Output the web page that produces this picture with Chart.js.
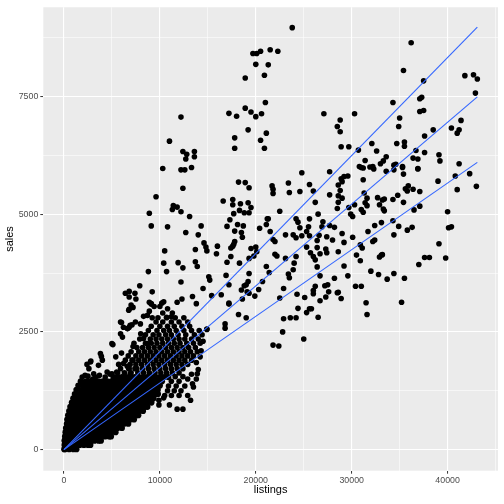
<!DOCTYPE html>
<html>
<head>
<meta charset="utf-8">
<script src="https://cdn.jsdelivr.net/npm/chart.js@4.4.0/dist/chart.umd.min.js"></script>
<style>
  html, body { margin: 0; padding: 0; background: #ffffff; }
  #wrap { width: 504px; height: 504px; }
</style>
</head>
<body>
<div id="wrap"><canvas id="chart" width="504" height="504"></canvas></div>
<script>
// dense core near the origin, one row per sales level: [sales, [listings...]]
const coreRows = [
  [10,   [30, 100, 540, 980, 1300]],
  [100,  [60, 320, 760, 1200, 1640, 2080, 2520, 2750]],
  [190,  [60, 100, 540, 980, 1420, 1860, 2300, 2740, 3180, 3620, 3850]],
  [280,  [110, 320, 760, 1200, 1640, 2080, 2520, 2960, 3400, 3840, 4280, 4720, 4900]],
  [370,  [160, 540, 980, 1420, 1860, 2300, 2740, 3180, 3620, 4060, 4500, 4940, 5380]],
  [460,  [210, 320, 760, 1200, 1640, 2080, 2520, 2960, 3400, 3840, 4280, 4720, 5160, 5600, 6040]],
  [550,  [300, 540, 980, 1420, 1860, 2300, 2740, 3180, 3620, 4060, 4500, 4940, 5380, 5820, 6260, 6700]],
  [640,  [340, 760, 1200, 1640, 2080, 2520, 2960, 3400, 3840, 4280, 4720, 5160, 5600, 6040, 6480, 6920, 7300]],
  [730,  [430, 700, 980, 1420, 1860, 2300, 2740, 3180, 3620, 4060, 4500, 4940, 5380, 5820, 6260, 6700, 7140, 7580, 7750]],
  [820,  [540, 760, 1200, 1640, 2080, 2520, 2960, 3400, 3840, 4280, 4720, 5160, 5600, 6040, 6480, 6920, 7360, 7800, 8240]],
  [910,  [660, 980, 1420, 1860, 2300, 2740, 3180, 3620, 4060, 4500, 4940, 5380, 5820, 6260, 6700, 7140, 7580, 8020, 8460, 8700]],
  [1000, [820, 1200, 1640, 2080, 2520, 2960, 3400, 3840, 4280, 4720, 5160, 5600, 6040, 6480, 6920, 7360, 7800, 8240, 8680, 9120]],
  [1090, [970, 1420, 1860, 2300, 2740, 3180, 3620, 4060, 4500, 4940, 5380, 5820, 6260, 6700, 7140, 7580, 8020, 8460, 8900, 9340]],
  [1180, [1130, 1640, 2080, 2520, 2960, 3400, 3840, 4280, 4720, 5160, 5600, 6040, 6480, 6920, 7360, 7800, 8240, 8680, 9120, 9560, 9800]],
  [1270, [1300, 1860, 2300, 2740, 3180, 3620, 4060, 4500, 4940, 5380, 5820, 6260, 6700, 7140, 7580, 8020, 8460, 8900, 9340, 9780]],
  [1360, [1500, 2080, 2520, 2960, 3400, 3840, 4280, 4720, 5160, 5600, 6040, 6480, 6920, 7360, 7800, 8240, 8680, 9120, 9560, 10000]],
  [1450, [1750, 2300, 2740, 3180, 3620, 4060, 4500, 4940, 5380, 5820, 6260, 6700, 7140, 7580, 8020, 8460, 8900, 9340, 9780, 10220]],
  [1540, [5160, 5600, 6040, 6480, 6920, 7360, 7800, 8240, 8680, 9120, 9560, 10000, 10440, 10880]]
];

// band along the fitted lines, same layout: [sales, [listings...]]
const bandRows = [
  [1630, [5600, 6300, 7000, 7700, 8300, 8900, 9500, 10100, 10700, 11300, 12000]],
  [1720, [5900, 6800, 7600, 8200, 8800, 9400, 10000, 10600, 11200, 11800, 12400]],
  [1810, [5700, 6900, 7500, 8100, 8700, 9300, 9900, 10500, 11100, 11700, 12300, 12900]],
  [1900, [6400, 7200, 7800, 8400, 9000, 9600, 10200, 10800, 11400, 12000, 12600, 13300]],
  [1990, [6700, 7500, 8100, 8700, 9300, 9900, 10500, 11100, 11700, 12300, 12900, 13500]],
  [2080, [7000, 7800, 8400, 9000, 9600, 10200, 10800, 11400, 12000, 12600, 13200, 13900]],
  [2170, [7600, 8200, 8800, 9400, 10000, 10600, 11200, 11800, 12400, 13000, 13700]],
  [2260, [7300, 8500, 9100, 9700, 10300, 10900, 11500, 12100, 12800, 13500, 14200]],
  [2350, [7900, 9000, 9600, 10200, 10800, 11400, 12000, 12600, 13300, 14000]],
  [2440, [8500, 9300, 9900, 10600, 11200, 11900, 12700, 13600, 14400]],
  [2530, [8800, 9700, 10400, 11000, 11700, 12500, 13300, 14100]],
  [2620, [9100, 10000, 10800, 11500, 12300, 13100]],
  [2710, [9600, 10300, 11200, 12000, 12900]],
  [2800, [9800, 10700, 11600, 12500]],
  [2900, [10300, 11300]]
];

// individual points: [listings, sales]
const lowerPoints = [
  [11800, 860], [12400, 860], [12000, 1150], [13200, 1050], [9900, 1050], [10400, 1100], [8300, 1050],
  [14200, 1970], [13900, 1610], [13500, 1330],
  [10800, 1250], [11500, 1250], [12200, 1250], [10500, 1150], [11200, 1150], [12900, 1150],
  [9900, 950], [11000, 950], [10900, 1350], [11700, 1350], [12600, 1350], [13400, 1400],
  [11200, 1450], [12000, 1450], [12900, 1500], [13800, 1500], [11600, 1550], [12400, 1550], [13300, 1600],
  [14000, 1700], [13800, 1850], [14300, 2100], [14500, 2300], [14900, 2560],
  [1900, 1540], [2500, 1560], [3000, 1500], [3700, 1580], [4300, 1540], [4800, 1600]
];

const clumpPoints = [
  [6750, 2960], [5900, 2710], [6200, 2600], [6900, 2640], [6650, 2570], [7970, 2670], [7450, 2710],
  [5000, 2250], [5900, 2460], [6100, 2390], [8000, 2460], [8300, 2360], [8700, 2250],
  [3800, 2040], [4000, 1900], [2760, 1860], [3600, 1790], [2600, 1720], [2100, 1430], [3100, 1610],
  [4500, 1650], [5400, 1970], [6200, 1830], [7100, 1900], [6750, 1720], [5500, 1650], [5100, 2230],
  [7200, 2190], [6000, 2050], [3900, 1980], [2400, 1810], [2800, 1880], [3300, 1540], [2200, 1580],
  [6600, 1770], [5000, 1610], [6900, 1610], [7400, 1720], [7600, 1440], [7200, 1370],
  [6400, 3320], [6800, 3240], [7500, 3200], [7200, 3020], [6800, 2980], [7000, 3070], [9100, 3090],
  [9400, 3040], [10000, 3040], [10800, 2990], [8900, 2940], [8300, 2830], [8700, 2850], [9200, 2800],
  [10700, 2810], [11200, 2820], [6000, 2700], [7100, 2650], [6800, 2600], [6600, 2570],
  [13800, 3100], [17200, 3090], [19100, 3350], [18200, 2870], [19000, 2800], [16800, 2670],
  [16800, 2580], [14900, 2550]
];

const upperPoints = [
  [23800, 8960], [19700, 8410], [20100, 8410], [20500, 8460], [21500, 8490], [22300, 8460],
  [20000, 8180], [21300, 8170], [18900, 7890], [20900, 7950], [21000, 7370], [18900, 7250],
  [19500, 7170], [20600, 7130], [20000, 7070], [17200, 7140], [18000, 7080], [27100, 7130],
  [12200, 7060], [19200, 6790], [21100, 6720], [17800, 6620], [20500, 6570], [17800, 6400],
  [20900, 6400], [11000, 6550], [12400, 6330], [12800, 6270], [13600, 6330], [12700, 6170],
  [13600, 6220], [10300, 5970], [12200, 5940], [12600, 5940], [13300, 5990],
  [36200, 8640], [35400, 8050], [41800, 7940], [42700, 7960], [43100, 7870], [42900, 7570],
  [37500, 7830], [37300, 7480], [37100, 7450], [37100, 7180], [37500, 7200], [34300, 7370],
  [35000, 7040], [34900, 6860], [30300, 7130], [28800, 7000], [28500, 6860], [28800, 6750],
  [28900, 6430], [29700, 6430], [30700, 6360], [32100, 6500], [32600, 6340], [31400, 6140],
  [33600, 6220], [33300, 6130], [33000, 6070], [30800, 6010], [31200, 5980], [32200, 6010],
  [32300, 5960], [34400, 6040], [34600, 6060], [35300, 6010], [34700, 6500], [35500, 6530],
  [35500, 6440], [38500, 6790], [37600, 6660], [40400, 6830], [41000, 6720], [41200, 6790],
  [41400, 6990], [36700, 6350], [37600, 6310], [36400, 6190], [36900, 6170], [39100, 6260],
  [39200, 6130], [41200, 6070], [36900, 5970]
];

const middlePoints = [
  [18200, 5680], [18900, 5670], [19300, 5560], [12400, 5550], [9600, 5370], [16600, 5280],
  [17600, 5310], [17600, 5200], [18400, 5220], [19200, 5240], [11400, 5180], [11300, 5100],
  [11800, 5150], [12200, 5050], [18300, 5080], [18800, 5030], [19300, 5030], [19500, 5140],
  [17700, 5010], [8900, 5020], [13100, 4950], [17300, 4880], [21200, 4900], [9100, 4750],
  [10800, 4730], [14300, 4750], [17000, 4740], [18100, 4780], [18700, 4750], [20400, 4700],
  [21100, 4780], [17800, 4640], [18500, 4610], [12700, 4610], [14000, 4560], [18600, 4510],
  [17800, 4420], [17700, 4360], [17600, 4320], [17400, 4280], [14600, 4390], [14800, 4300],
  [14900, 4220], [13700, 4250], [16000, 4320], [15900, 4160], [10500, 4220], [19500, 4270],
  [20000, 4300], [20100, 4200], [19800, 4110], [19300, 4060], [17400, 4100], [17000, 3980],
  [18300, 3960], [13700, 3990], [13900, 3890], [12400, 3860], [10400, 3960], [10700, 3780],
  [11900, 3970], [8800, 3780], [15100, 3670], [15200, 3600], [16900, 3700], [17200, 3500],
  [21100, 3890], [19300, 3740], [19200, 3570], [19000, 3500], [18800, 3480], [12200, 3560],
  [14500, 3420], [7900, 3480], [6800, 3360], [7400, 3320], [9200, 3350], [15400, 3270],
  [13400, 3250], [12300, 3200], [11800, 3130], [10400, 3140], [10200, 3110], [8900, 3130],
  [9100, 3100], [16400, 3290], [17200, 3110], [18600, 3200], [18500, 3390], [19300, 3320],
  [19900, 3260], [20300, 3400], [20700, 3570],
  [24800, 5880], [27700, 5900], [21700, 5600], [21800, 5530], [21800, 5440], [23400, 5660],
  [23500, 5460], [24600, 5480], [25600, 5630], [26000, 5490], [26200, 5250], [22500, 5060],
  [21300, 4900], [21500, 4630], [21800, 4460], [22000, 4420], [22000, 4150], [22200, 4110],
  [21400, 3760], [24200, 4900], [24400, 4830], [24600, 4710], [25500, 4730], [25600, 4900],
  [26500, 5000], [27000, 4840], [26900, 4730], [27700, 4760], [28200, 4720], [23100, 4560],
  [23900, 4560], [24200, 4500], [24800, 4540], [25300, 4630], [25600, 4540], [26400, 4440],
  [26400, 4290], [26600, 4550], [27400, 4520], [28000, 4450], [27300, 4260], [26700, 4160],
  [27400, 4180], [25300, 4300], [25700, 4180], [26000, 4100], [26200, 4030], [26400, 3880],
  [23100, 4060], [24000, 3960], [24200, 4100], [23900, 3820], [23400, 3730], [23500, 3650],
  [22900, 3420], [22500, 3220], [24300, 3300], [25100, 3230], [26200, 3470], [26700, 3690],
  [27200, 3480], [27500, 3500], [28200, 3640], [28500, 3330], [28900, 3210], [26700, 3160],
  [28600, 4200], [29000, 4590], [29200, 4400], [30100, 4510], [28900, 5750], [29000, 5690],
  [29200, 5800], [29600, 5810], [28600, 5620], [28800, 5500], [28600, 5390], [29000, 5340],
  [28600, 5250], [28500, 5120], [27700, 5410], [29700, 5140], [30300, 5200], [30100, 4950],
  [29900, 5000], [31200, 5730], [31300, 5450], [31600, 5340], [31400, 5240], [31600, 5180],
  [31000, 5100], [31200, 5040], [31900, 6000], [31000, 5990], [32700, 5350], [33200, 5300],
  [33300, 5110], [32400, 4760], [33100, 4820], [32900, 5200], [30900, 4350], [31100, 4280],
  [30500, 4130], [30900, 4010], [31700, 4630], [32200, 4420], [32400, 4450], [29200, 3900],
  [29600, 3690], [30400, 3470], [31000, 3470], [32000, 3790], [32800, 3720], [33100, 4130],
  [31500, 3120], [26000, 3380], [26000, 3310], [27300, 3240],
  [33600, 5910], [34400, 5940], [35300, 5990], [35400, 5850], [36900, 5960], [39000, 5700],
  [40800, 5810], [42300, 5860], [41000, 5520], [43000, 5590], [35600, 5540], [35900, 5600],
  [35800, 5490], [36400, 5530], [37100, 5480], [34800, 5400], [35400, 5250], [34300, 5310],
  [33400, 5320], [33400, 5070], [36500, 5090], [37100, 5170], [40000, 5050], [34300, 4860],
  [34900, 4740], [34400, 4560], [35800, 4660], [36300, 4720], [40100, 4710], [40400, 4730],
  [39100, 4370], [39800, 4070], [37600, 4080], [38100, 4080], [37000, 3930], [33200, 4140],
  [32900, 4090], [34400, 3740], [33700, 3620], [35500, 3640], [35200, 3130],
  [27600, 3350], [28600, 3340], [31600, 2870], [24400, 3000], [25600, 2990], [25800, 2990],
  [25300, 2910], [22900, 2780], [23600, 2800], [24200, 2800], [26500, 2810], [22800, 2500],
  [21800, 2220], [22400, 2200], [25000, 2350]
];

// quantile fits (tau 0.75, 0.5, 0.25), drawn between these listings
const fitListings = [0, 43100];
const fitUpper = [0, 8970];
const fitMedian = [0, 7490];
const fitLower = [0, 6100];

const xMajor = [0, 10000, 20000, 30000, 40000];
const xMinor = [5000, 15000, 25000, 35000, 45000];
const yMajor = [0, 2500, 5000, 7500];
const yMinor = [1250, 3750, 6250, 8750];

function rowsToPoints(rows) {
  const out = [];
  rows.forEach(function(row) {
    row[1].forEach(function(l) { out.push({x: l, y: row[0]}); });
  });
  return out;
}
const corePoints = rowsToPoints(coreRows);
const points = rowsToPoints(bandRows);
lowerPoints.concat(clumpPoints, upperPoints, middlePoints).forEach(function(p) {
  points.push({x: p[0], y: p[1]});
});

function fitLine(ys) {
  return fitListings.map(function(x, i) { return {x: x, y: ys[i]}; });
}

const panelBackground = {
  id: 'panelBackground',
  beforeDraw: function(chart) {
    const a = chart.chartArea;
    const ctx = chart.ctx;
    ctx.save();
    ctx.fillStyle = '#EBEBEB';
    ctx.fillRect(a.left, a.top, a.right - a.left, a.bottom - a.top);
    ctx.restore();
  }
};

function gridAxis(major, minor) {
  const all = major.concat(minor).sort(function(a, b) { return a - b; });
  return {
    afterBuildTicks: function(scale) {
      scale.ticks = all.map(function(v) { return {value: v}; });
    },
    grid: {
      color: '#FFFFFF',
      lineWidth: function(ctx) { return major.includes(ctx.tick.value) ? 1.1 : 0.55; },
      tickColor: function(ctx) { return major.includes(ctx.tick.value) ? '#333333' : 'rgba(0,0,0,0)'; },
      tickLength: 3,
      tickWidth: 1
    },
    border: {display: false},
    ticks: {
      autoSkip: false,
      maxRotation: 0,
      padding: 2,
      color: '#4D4D4D',
      font: {family: 'Liberation Sans', size: 8.8},
      callback: function(value) { return major.includes(value) ? String(value) : ''; }
    }
  };
}

const xAxis = gridAxis(xMajor, xMinor);
xAxis.type = 'linear';
xAxis.min = -2155;
xAxis.max = 45255;
xAxis.afterFit = function(scale) { scale.height = 33.3; };
xAxis.title = {display: true, text: 'listings', color: '#000000',
  font: {family: 'Liberation Sans', size: 11}, padding: {top: 0, bottom: 7}};

const yAxis = gridAxis(yMajor, yMinor);
yAxis.type = 'linear';
yAxis.min = -447;
yAxis.max = 9392;
yAxis.afterFit = function(scale) { scale.width = 43.3; };
yAxis.title = {display: true, text: 'sales', color: '#000000',
  font: {family: 'Liberation Sans', size: 11}, padding: {top: 3.5, bottom: 0}};

new Chart(document.getElementById('chart'), {
  type: 'scatter',
  data: {
    datasets: [
      {type: 'line', data: fitLine(fitUpper), borderColor: '#3366FF', borderWidth: 1.1, pointRadius: 0, order: 0},
      {type: 'line', data: fitLine(fitMedian), borderColor: '#3366FF', borderWidth: 1.1, pointRadius: 0, order: 0},
      {type: 'line', data: fitLine(fitLower), borderColor: '#3366FF', borderWidth: 1.1, pointRadius: 0, order: 0},
      {data: points, backgroundColor: '#000000', borderWidth: 0, pointRadius: 2.8, order: 1},
      {data: corePoints, backgroundColor: '#000000', borderWidth: 0, pointRadius: 3.1, order: 2}
    ]
  },
  options: {
    responsive: false,
    animation: false,
    layout: {padding: {top: 5, right: 6, left: 0, bottom: 0}},
    plugins: {legend: {display: false}, tooltip: {enabled: false}},
    scales: {x: xAxis, y: yAxis}
  },
  plugins: [panelBackground]
});
</script>
</body>
</html>
